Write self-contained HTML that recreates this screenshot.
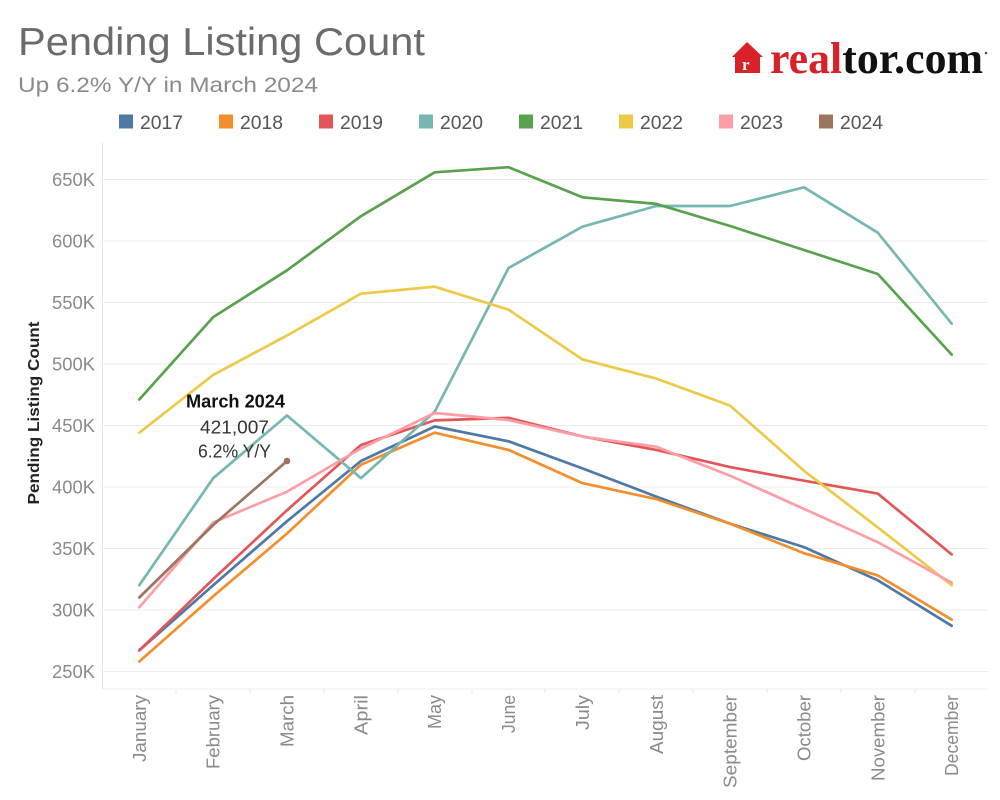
<!DOCTYPE html>
<html>
<head>
<meta charset="utf-8">
<style>
  html, body { margin:0; padding:0; background:#fff; }
  svg { display:block; }
  .s { font-family: "Liberation Sans", "DejaVu Sans", sans-serif; }
  .serif { font-family: "Liberation Serif", "DejaVu Serif", serif; }
</style>
</head>
<body>
<svg width="1000" height="800" viewBox="0 0 1000 800" xmlns="http://www.w3.org/2000/svg">
  <rect x="0" y="0" width="1000" height="800" fill="#ffffff"/>

  <!-- Title -->
  <text class="s" x="18" y="55" font-size="39" fill="#6b6b6b" textLength="407" lengthAdjust="spacingAndGlyphs">Pending Listing Count</text>
  <text class="s" x="18" y="92" font-size="21" fill="#8a8a8a" textLength="300" lengthAdjust="spacingAndGlyphs">Up 6.2% Y/Y in March 2024</text>

  <!-- Logo -->
  <g>
    <polygon points="747,42 732,57 735,57 735,73 760,73 760,57 763,57" fill="#d92228"/>
    <text class="serif" x="742" y="70" font-weight="bold" font-size="17" fill="#ffffff">r</text>
    <text class="serif" x="770" y="73" font-weight="bold" font-size="44" textLength="213" lengthAdjust="spacingAndGlyphs"><tspan fill="#d92228">real</tspan><tspan fill="#111111">tor.com</tspan></text>
    <circle cx="986" cy="53" r="1.3" fill="#555"/>
  </g>

  <!-- Legend -->
  <g class="s" font-size="19" fill="#555555">
    <rect x="119" y="114.5" width="14" height="14" fill="#4e79a7"/><text x="140" y="129" textLength="43" lengthAdjust="spacingAndGlyphs">2017</text>
    <rect x="219" y="114.5" width="14" height="14" fill="#f28e2b"/><text x="240" y="129" textLength="43" lengthAdjust="spacingAndGlyphs">2018</text>
    <rect x="319" y="114.5" width="14" height="14" fill="#e15759"/><text x="340" y="129" textLength="43" lengthAdjust="spacingAndGlyphs">2019</text>
    <rect x="419" y="114.5" width="14" height="14" fill="#76b7b2"/><text x="440" y="129" textLength="43" lengthAdjust="spacingAndGlyphs">2020</text>
    <rect x="519" y="114.5" width="14" height="14" fill="#59a14f"/><text x="540" y="129" textLength="43" lengthAdjust="spacingAndGlyphs">2021</text>
    <rect x="619" y="114.5" width="14" height="14" fill="#edc948"/><text x="640" y="129" textLength="43" lengthAdjust="spacingAndGlyphs">2022</text>
    <rect x="719" y="114.5" width="14" height="14" fill="#ff9da7"/><text x="740" y="129" textLength="43" lengthAdjust="spacingAndGlyphs">2023</text>
    <rect x="819" y="114.5" width="14" height="14" fill="#9c755f"/><text x="840" y="129" textLength="43" lengthAdjust="spacingAndGlyphs">2024</text>
  </g>

  <!-- Gridlines -->
  <g stroke="#ececec" stroke-width="1">
    <line x1="103" y1="179.5" x2="988" y2="179.5"/>
    <line x1="103" y1="241" x2="988" y2="241"/>
    <line x1="103" y1="302.5" x2="988" y2="302.5"/>
    <line x1="103" y1="364" x2="988" y2="364"/>
    <line x1="103" y1="425.5" x2="988" y2="425.5"/>
    <line x1="103" y1="487" x2="988" y2="487"/>
    <line x1="103" y1="548.5" x2="988" y2="548.5"/>
    <line x1="103" y1="610" x2="988" y2="610"/>
    <line x1="103" y1="671.5" x2="988" y2="671.5"/>
  </g>
  <!-- Axes -->
  <line x1="102.5" y1="143" x2="102.5" y2="689" stroke="#e2e2e2" stroke-width="1"/>
  <line x1="103" y1="689" x2="988" y2="689" stroke="#ececec" stroke-width="1"/>
  <g stroke="#e6e6e6" stroke-width="1">
    <line x1="176" y1="689" x2="176" y2="693"/>
    <line x1="250" y1="689" x2="250" y2="693"/>
    <line x1="324" y1="689" x2="324" y2="693"/>
    <line x1="398" y1="689" x2="398" y2="693"/>
    <line x1="472" y1="689" x2="472" y2="693"/>
    <line x1="545" y1="689" x2="545" y2="693"/>
    <line x1="619" y1="689" x2="619" y2="693"/>
    <line x1="693" y1="689" x2="693" y2="693"/>
    <line x1="767" y1="689" x2="767" y2="693"/>
    <line x1="841" y1="689" x2="841" y2="693"/>
    <line x1="915" y1="689" x2="915" y2="693"/>
  </g>

  <!-- Y tick labels -->
  <g class="s" font-size="18" fill="#8a8a8a" text-anchor="end">
    <text x="95" y="186" textLength="43" lengthAdjust="spacingAndGlyphs">650K</text>
    <text x="95" y="247.5" textLength="43" lengthAdjust="spacingAndGlyphs">600K</text>
    <text x="95" y="309" textLength="43" lengthAdjust="spacingAndGlyphs">550K</text>
    <text x="95" y="370.5" textLength="43" lengthAdjust="spacingAndGlyphs">500K</text>
    <text x="95" y="432" textLength="43" lengthAdjust="spacingAndGlyphs">450K</text>
    <text x="95" y="493.5" textLength="43" lengthAdjust="spacingAndGlyphs">400K</text>
    <text x="95" y="555" textLength="43" lengthAdjust="spacingAndGlyphs">350K</text>
    <text x="95" y="616.5" textLength="43" lengthAdjust="spacingAndGlyphs">300K</text>
    <text x="95" y="678" textLength="43" lengthAdjust="spacingAndGlyphs">250K</text>
  </g>

  <!-- Y axis title -->
  <text class="s" transform="translate(39,413) rotate(-90)" text-anchor="middle" font-size="16" font-weight="bold" fill="#222" textLength="183" lengthAdjust="spacingAndGlyphs">Pending Listing Count</text>

  <!-- X tick labels -->
  <g class="s" font-size="18" fill="#8a8a8a" text-anchor="end">
    <text transform="translate(145.8,695) rotate(-90)" textLength="67" lengthAdjust="spacingAndGlyphs">January</text>
    <text transform="translate(219.7,695) rotate(-90)" textLength="74" lengthAdjust="spacingAndGlyphs">February</text>
    <text transform="translate(293.5,695) rotate(-90)" textLength="52" lengthAdjust="spacingAndGlyphs">March</text>
    <text transform="translate(367.4,695) rotate(-90)" textLength="40" lengthAdjust="spacingAndGlyphs">April</text>
    <text transform="translate(441.2,695) rotate(-90)" textLength="34" lengthAdjust="spacingAndGlyphs">May</text>
    <text transform="translate(515.1,695) rotate(-90)" textLength="38" lengthAdjust="spacingAndGlyphs">June</text>
    <text transform="translate(588.9,695) rotate(-90)" textLength="35" lengthAdjust="spacingAndGlyphs">July</text>
    <text transform="translate(662.8,695) rotate(-90)" textLength="59" lengthAdjust="spacingAndGlyphs">August</text>
    <text transform="translate(736.6,695) rotate(-90)" textLength="93" lengthAdjust="spacingAndGlyphs">September</text>
    <text transform="translate(810.5,695) rotate(-90)" textLength="66" lengthAdjust="spacingAndGlyphs">October</text>
    <text transform="translate(884.3,695) rotate(-90)" textLength="86" lengthAdjust="spacingAndGlyphs">November</text>
    <text transform="translate(958.2,695) rotate(-90)" textLength="81" lengthAdjust="spacingAndGlyphs">December</text>
  </g>

  <!-- Series -->
  <g fill="none" stroke-width="2.7" stroke-linejoin="round" stroke-linecap="round">
    <polyline stroke="#4e79a7" points="139.3,650.4 213.2,585.2 287.0,521.2 360.9,461.0 434.7,426.5 508.6,441.3 582.4,468.4 656.3,496.6 730.1,523.7 804.0,547.1 877.8,580.3 951.7,625.8"/>
    <polyline stroke="#f28e2b" points="139.3,661.5 213.2,596.3 287.0,533.5 360.9,464.7 434.7,432.7 508.6,449.9 582.4,483.1 656.3,499.1 730.1,523.7 804.0,553.2 877.8,575.4 951.7,619.6"/>
    <polyline stroke="#e15759" points="139.3,650.4 213.2,579.1 287.0,510.2 360.9,445.0 434.7,420.4 508.6,417.9 582.4,436.4 656.3,449.9 730.1,467.1 804.0,480.7 877.8,493.6 951.7,554.5"/>
    <polyline stroke="#76b7b2" points="139.3,585.2 213.2,478.2 287.0,415.5 360.9,478.2 434.7,411.8 508.6,267.9 582.4,226.7 656.3,206.0 730.1,206.0 804.0,187.3 877.8,232.7 951.7,323.7"/>
    <polyline stroke="#59a14f" points="139.3,399.5 213.2,317.1 287.0,270.3 360.9,216.2 434.7,172.3 508.6,167.2 582.4,197.3 656.3,203.9 730.1,226.0 804.0,250.0 877.8,274.0 951.7,354.6"/>
    <polyline stroke="#edc948" points="139.3,432.7 213.2,374.9 287.0,335.5 360.9,293.7 434.7,286.7 508.6,309.7 582.4,359.4 656.3,378.6 730.1,405.6 804.0,470.8 877.8,527.4 951.7,585.2"/>
    <polyline stroke="#ff9da7" points="139.3,607.3 213.2,522.5 287.0,491.7 360.9,448.5 434.7,413.0 508.6,420.0 582.4,436.6 656.3,446.7 730.1,475.7 804.0,508.9 877.8,542.2 951.7,582.7"/>
    <polyline stroke="#9c755f" points="139.3,597.5 213.2,525.0 287.0,461.0"/>
  </g>
  <circle cx="287" cy="461" r="3.3" fill="#9c755f"/>

  <!-- Annotation -->
  <g class="s" text-anchor="middle" font-size="18" fill="#333">
    <text x="235.5" y="407.7" font-weight="bold" fill="#111" textLength="99" lengthAdjust="spacingAndGlyphs">March 2024</text>
    <text x="234.5" y="433.3" textLength="69" lengthAdjust="spacingAndGlyphs">421,007</text>
    <text x="234.5" y="457.7" textLength="73" lengthAdjust="spacingAndGlyphs">6.2% Y/Y</text>
  </g>
</svg>
</body>
</html>
